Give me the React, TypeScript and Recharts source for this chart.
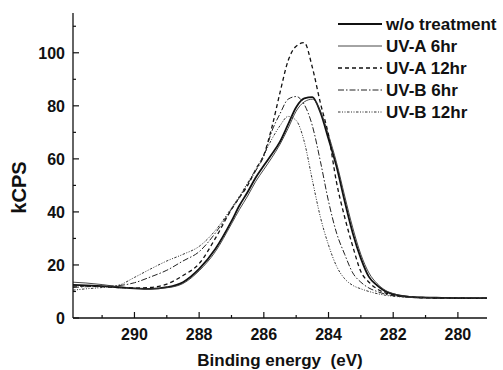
import { LineChart, Line, XAxis, YAxis, Legend } from 'recharts';

const FONT = '"Liberation Sans", Arial, Helvetica, sans-serif';

// binding energy (eV), high to low
const energy = [
  291.9, 291.5, 291, 290.5, 290, 289.5, 289, 288.5, 288, 287.5, 287, 286.75, 286.5, 286.25, 286,
  285.75, 285.5, 285.25, 285, 284.75, 284.5, 284.25, 284, 283.75, 283.5, 283.25, 283, 282.75,
  282.5, 282.25, 282, 281.5, 281, 280.5, 280, 279.5, 279.1,
];

const woTreatment = [
  12.5, 12.3, 12.0, 11.6, 11.2, 11.0, 11.6, 13.5, 18.5, 26, 36.5, 42.5, 47.5, 53, 57.5,
  61.8, 66.5, 73, 79.5, 82.8, 83.3, 77.5, 67.5, 57, 44, 32, 22.5, 15.5,
  12.3, 10.1, 9, 8, 7.7, 7.6, 7.5, 7.5, 7.5,
];
const uvA6 = [
  13.5, 13.2, 12.6, 11.8, 11.2, 11.0, 11.4, 13.0, 17.8, 25, 35.5, 41, 46, 51.5, 56,
  60.5, 65.5, 71.5, 78, 81.5, 82.5, 78, 69, 58.5, 46, 34, 24, 17,
  13, 10.5, 9.2, 8.1, 7.8, 7.6, 7.6, 7.5, 7.5,
];
const uvA12 = [
  12, 12, 11.8, 11.5, 11.3, 11.5, 12.8, 16, 20.5, 30, 41, 45.5, 50, 56, 61.5,
  72, 85, 97, 102.5, 103.8, 94.5, 81, 69, 51, 38, 27, 17.5, 13.5,
  11, 9.5, 8.6, 7.9, 7.6, 7.5, 7.5, 7.4, 7.4,
];
const uvB6 = [
  11.5, 11.8, 11.9, 12.2, 13.3, 15.5, 18, 21.5, 25, 32, 41, 45.5, 50.5, 55.5, 61,
  70.5, 77, 82.5, 83.5, 80.5, 72.5, 59, 44, 32, 24, 17, 13.5, 11.3,
  10, 9, 8.4, 7.9, 7.7, 7.6, 7.5, 7.5, 7.5,
];
const uvB12 = [
  10.5, 11, 11.5, 12.3, 15.3, 18.5, 21.5, 24, 27, 33, 41.5, 46, 51, 56, 61.5,
  67.5, 72.5, 76, 74.5, 66.5, 52, 38, 27.5, 19.5, 14.8, 12.3, 11, 10,
  9.2, 8.6, 8.2, 7.8, 7.6, 7.5, 7.5, 7.5, 7.5,
];

const xTicks = [280, 281, 282, 283, 284, 285, 286, 287, 288, 289, 290, 291];
const yTicks = [0, 10, 20, 30, 40, 50, 60, 70, 80, 90, 100, 110];

const data = energy.map((e, i) => ({
  e,
  wo: woTreatment[i],
  uvA6: uvA6[i],
  uvA12: uvA12[i],
  uvB6: uvB6[i],
  uvB12: uvB12[i],
}));

const series = [
  { key: 'wo', name: 'w/o treatment', width: 1.8, dash: undefined as string | undefined, color: '#111' },
  { key: 'uvA6', name: 'UV-A 6hr', width: 0.9, dash: undefined as string | undefined, color: '#333' },
  { key: 'uvA12', name: 'UV-A 12hr', width: 1.3, dash: '4 3', color: '#111' },
  { key: 'uvB6', name: 'UV-B 6hr', width: 1, dash: '6 2 1.5 2', color: '#222' },
  { key: 'uvB12', name: 'UV-B 12hr', width: 1, dash: '2.5 1.5 1 1.5 1 1.5', color: '#333' },
];

// x / y passed to the tick renderers sit on the axis line (tickSize 0, margin 0)
function XTick({ x, y, payload }: any) {
  const major = payload.value % 2 === 0;
  return (
    <g>
      <line x1={x} y1={y} x2={x} y2={y - (major ? 6 : 3)} stroke="#111" strokeWidth={1.2} />
      {major && (
        <text x={x} y={y + 22} textAnchor="middle" fontSize={16} fontWeight="bold" fill="#111" fontFamily={FONT}>
          {payload.value}
        </text>
      )}
    </g>
  );
}

function YTick({ x, y, payload }: any) {
  const major = payload.value % 20 === 0;
  return (
    <g>
      <line x1={x} y1={y} x2={x + (major ? 6 : 3)} y2={y} stroke="#111" strokeWidth={1.2} />
      {major && (
        <text x={x - 8} y={y + 6} textAnchor="end" fontSize={16} fontWeight="bold" fill="#111" fontFamily={FONT}>
          {payload.value}
        </text>
      )}
    </g>
  );
}

function XTitle({ viewBox }: any) {
  return (
    <text x={viewBox.x + viewBox.width / 2} y={viewBox.y + 48} textAnchor="middle" fontSize={17} fontWeight="bold" fill="#111" fontFamily={FONT}>
      Binding energy{'\u00a0\u00a0'}(eV)
    </text>
  );
}

function YTitle({ viewBox }: any) {
  const cx = viewBox.x - 53;
  const cy = viewBox.y + viewBox.height / 2 + 22;
  return (
    <text x={cx} y={cy} transform={`rotate(-90 ${cx} ${cy})`} textAnchor="middle" dominantBaseline="central" fontSize={20} fontWeight="bold" fill="#111" fontFamily={FONT}>
      kCPS
    </text>
  );
}

function LegendBox() {
  return (
    <svg width={170} height={112}>
      {series.map((s, i) => {
        const cy = 12 + i * 22;
        return (
          <g key={s.key}>
            <line x1={2} y1={cy} x2={46} y2={cy} stroke={s.color} strokeWidth={s.width} strokeDasharray={s.dash} />
            <text x={50} y={cy + 6} fontSize={17} fontWeight="bold" fill="#111" fontFamily={FONT}>
              {s.name}
            </text>
          </g>
        );
      })}
    </svg>
  );
}

export default function App() {
  return (
    <div style={{ position: 'absolute', left: 0, top: 0, width: 503, height: 370, background: '#fff' }}>
      <LineChart width={503} height={370} data={data} margin={{ top: 13, right: 16, bottom: 51, left: 72 }}>
        <XAxis
          type="number"
          dataKey="e"
          domain={[279.1, 291.9]}
          reversed
          allowDataOverflow
          ticks={xTicks}
          interval={0}
          height={1}
          tickSize={0}
          tickMargin={0}
          tickLine={false}
          tick={<XTick />}
          axisLine={{ stroke: '#111', strokeWidth: 1.3 }}
          label={<XTitle />}
        />
        <YAxis
          type="number"
          domain={[0, 115]}
          allowDataOverflow
          ticks={yTicks}
          interval={0}
          width={1}
          tickSize={0}
          tickMargin={0}
          tickLine={false}
          tick={<YTick />}
          axisLine={{ stroke: '#111', strokeWidth: 1.3 }}
          label={<YTitle />}
        />
        <Legend
          layout="vertical"
          align="center"
          verticalAlign="middle"
          wrapperStyle={{ left: 336, top: 12, width: 170, height: 112 }}
          content={() => <LegendBox />}
        />
        {series.map((s) => (
          <Line
            key={s.key}
            type="monotone"
            dataKey={s.key}
            name={s.name}
            stroke={s.color}
            strokeWidth={s.width}
            strokeDasharray={s.dash}
            dot={false}
            activeDot={false}
            isAnimationActive={false}
          />
        ))}
      </LineChart>
    </div>
  );
}
